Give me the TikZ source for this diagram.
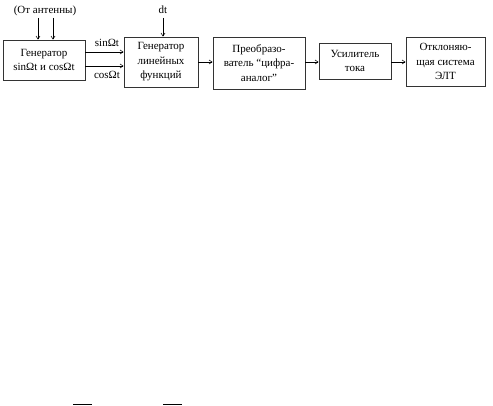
\documentclass[tikz,border=0pt]{standalone}
\usepackage{fontspec}
\setmainfont{Liberation Serif}
\usetikzlibrary{arrows.meta}
\begin{document}
\begin{tikzpicture}[x=1pt,y=-1pt,
  blk/.style={draw=black!80,line width=0.8pt,inner sep=0pt,align=center,font=\fontsize{11}{14.5}\selectfont},
  lbl/.style={font=\fontsize{11}{13}\selectfont,inner sep=0pt},
  arr/.style={line width=0.6pt,-{Straight Barb[length=3pt,width=4pt]}}]
\useasboundingbox (0,0) rectangle (493,406);
\node[blk,minimum width=82pt,minimum height=40pt] (g1) at (44,60) {Генератор\\sinΩt и cosΩt};
\node[blk,minimum width=74pt,minimum height=50pt] (g2) at (161,62) {Генератор\\линейных\\функций};
\node[blk,minimum width=92pt,minimum height=52pt] (g3) at (259,63) {Преобразо-\\ватель “цифра-\\аналог”};
\node[blk,minimum width=72pt,minimum height=36pt] (g4) at (355,61) {Усилитель\\тока};
\node[blk,minimum width=79pt,minimum height=49pt] (g5) at (445.5,61.5) {Отклоняю-\\щая система\\ЭЛТ};
\node[lbl] (ant) at (45,11) {(От антенны)};
\node[lbl] (dt) at (163,10) {dt};
\coordinate (a1) at (38,18);
\coordinate (a2) at (53,18);
\draw[arr] (a1) -- (a1 |- g1.north);
\draw[arr] (a2) -- (a2 |- g1.north);
\coordinate (d1) at (163,18);
\draw[arr] (d1) -- (d1 |- g2.north);
\coordinate (s1) at (85,52);
\coordinate (c1) at (85,66);
\draw[arr] (s1) -- (s1 -| g2.west);
\draw[arr] (c1) -- (c1 -| g2.west);
\node[lbl] (sl) at (107,43) {sinΩt};
\node[lbl] (cl) at (107,75) {cosΩt};
\draw[arr] (g2.east |- 0,62) -- (g3.west |- 0,62);
\draw[arr] (g3.east |- 0,62) -- (g4.west |- 0,62);
\draw[arr] (g4.east |- 0,62) -- (g5.west |- 0,62);
\draw[line width=0.8pt] (73,404.5) -- (92,404.5);
\draw[line width=0.8pt] (163,404.5) -- (182,404.5);
\end{tikzpicture}
\end{document}
